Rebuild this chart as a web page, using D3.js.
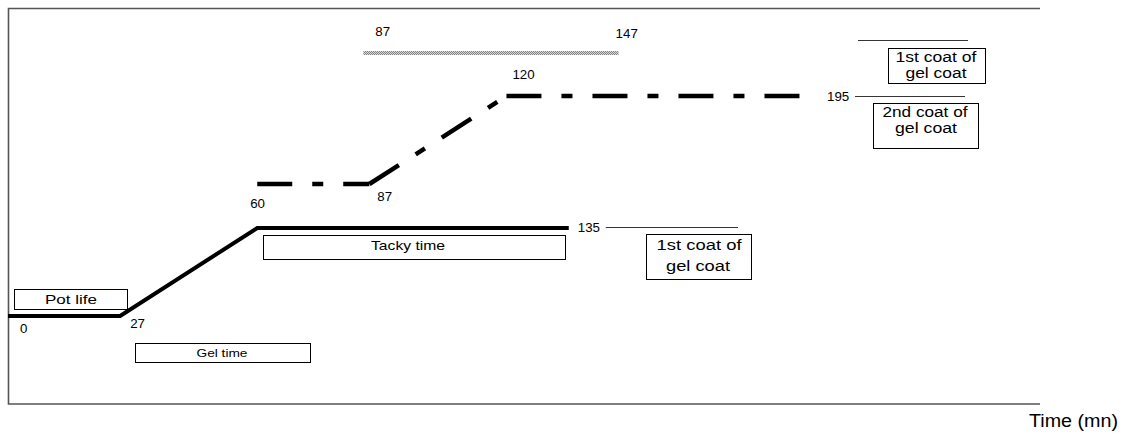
<!DOCTYPE html>
<html><head><meta charset="utf-8">
<script src="https://cdn.jsdelivr.net/npm/d3@7"></script>
<style>body{margin:0;background:#fff}svg{display:block;font-family:"Liberation Sans",Arial,sans-serif}</style>
</head><body><svg id="c" width="1126" height="438"></svg>
<script>
// Data
const gelTimes = [0, 27, 60, 135];          // solid curve (pot life -> gel -> tacky)
const gelLevels = [0, 0, 2, 2];
const coatTimes = [60, 87, 120, 195];       // dash-dot curve
const coatLevels = [3, 3, 5, 5];
const windowRange = [87, 147];              // dotted bar
const windowLevel = 6;
const pointLabels = ["0", "27", "60", "87", "120", "135", "195"];
const pointTimes = [0, 27, 60, 87, 120, 135, 195];
const boxTexts = ["Pot life", "Gel time", "Tacky time"];
const coatTexts = ["1st coat of", "gel coat", "2nd coat of"];
const axisTitle = "Time (mn)";

const svg = d3.select("#c");
const x = d3.scaleLinear().domain([0, 195]).range([8, 818]);
const y = d3.scaleLinear().domain([0, 6]).range([316, 52]);

// frame
svg.append("path").attr("d", "M1040,8.5H8.5V404H1040").attr("fill", "none")
  .attr("stroke", "#555").attr("stroke-width", 1.6);

const line = d3.line().x(d => x(d[0])).y(d => y(d[1])).curve(d3.curveLinear);

svg.append("path").datum(d3.zip(gelTimes, gelLevels)).attr("d", line)
  .attr("fill", "none").attr("stroke", "#000").attr("stroke-width", 4).attr("stroke-linejoin", "miter");

// dash-dot curve: each segment restarts the dash pattern
const coatPts = d3.zip(coatTimes, coatLevels);
d3.pairs(coatPts).forEach(seg => {
  svg.append("path").datum(seg).attr("d", line)
    .attr("fill", "none").attr("stroke", "#000").attr("stroke-width", 4.5)
    .attr("stroke-dasharray", "35,20,11,20");
});

// dotted window bar
const defs = svg.append("defs");
const pat = defs.append("pattern").attr("id", "chk").attr("width", 2).attr("height", 2)
  .attr("patternUnits", "userSpaceOnUse");
pat.append("rect").attr("width", 2).attr("height", 2).attr("fill", "#dcdcdc");
pat.append("rect").attr("width", 1).attr("height", 1).attr("fill", "#808080");
pat.append("rect").attr("x", 1).attr("y", 1).attr("width", 1).attr("height", 1).attr("fill", "#808080");
svg.append("rect").attr("x", x(windowRange[0]) - 6).attr("y", y(windowLevel) - 1)
  .attr("width", x(windowRange[1]) - x(windowRange[0]) + 6).attr("height", 4).attr("fill", "url(#chk)");

// text helper: stretched to the reference width
const txt = (t, px, py, fs, len, anchor) => svg.append("text").attr("x", px).attr("y", py)
  .attr("font-size", fs).attr("text-anchor", anchor || "start").attr("fill", "#000")
  .attr("textLength", len).attr("lengthAdjust", "spacingAndGlyphs").text(t);

// number labels
const nl = (t, px, py) => txt(t, px, py, 12, t.length * 7.4);
nl(pointLabels[0], x(pointTimes[0]) + 12, y(0) + 17);
nl(pointLabels[1], x(pointTimes[1]) + 10, y(0) + 12);
nl(pointLabels[2], x(pointTimes[2]) - 7, y(3) + 24);
nl(pointLabels[3], x(pointTimes[3]) + 8, y(3) + 17);
nl(pointLabels[4], x(pointTimes[4]) + 6, y(5) - 17);
nl(pointLabels[5], x(pointTimes[5]) + 9, y(2) + 4);
nl(pointLabels[6], x(pointTimes[6]) + 9, y(5) + 5);
nl(String(windowRange[0]), x(windowRange[0]) + 6, y(windowLevel) - 16);
nl(String(windowRange[1]), x(windowRange[1]) - 3, y(windowLevel) - 14);

// thin lines
const thin = (x1, x2, yy) => svg.append("line").attr("x1", x1).attr("x2", x2).attr("y1", yy).attr("y2", yy)
  .attr("stroke", "#000").attr("stroke-width", 0.8);
thin(x(135) + 37, 738, y(2) - 0.5);
thin(x(195) + 37, 965, y(5) + 0.5);
thin(858, 968, 40.5);

// boxes
const box = (x0, y0, w, h) => svg.append("rect").attr("x", x0 + 0.5).attr("y", y0 + 0.5)
  .attr("width", w).attr("height", h).attr("fill", "#fff").attr("stroke", "#000").attr("stroke-width", 1);
box(14, 289, 113, 20);
txt(boxTexts[0], 71, 304, 13.5, 52, "middle");
box(135, 343, 175, 19);
txt(boxTexts[1], 222, 357, 11, 51, "middle");
box(263, 235, 302, 24);
txt(boxTexts[2], 408, 250, 13.5, 74, "middle");
box(646, 234, 105, 45);
txt(coatTexts[0], 699, 250, 14, 85, "middle");
txt(coatTexts[1], 698, 271, 14, 64, "middle");
box(888, 48, 97, 35);
txt(coatTexts[0], 936, 62, 14, 81, "middle");
txt(coatTexts[1], 936, 78, 14, 61, "middle");
box(873, 103, 105, 45);
txt(coatTexts[2], 925, 117, 14, 85, "middle");
txt(coatTexts[1], 926, 133, 14, 62, "middle");

txt(axisTitle, 1118, 427, 18, 89, "end");
</script></body></html>
